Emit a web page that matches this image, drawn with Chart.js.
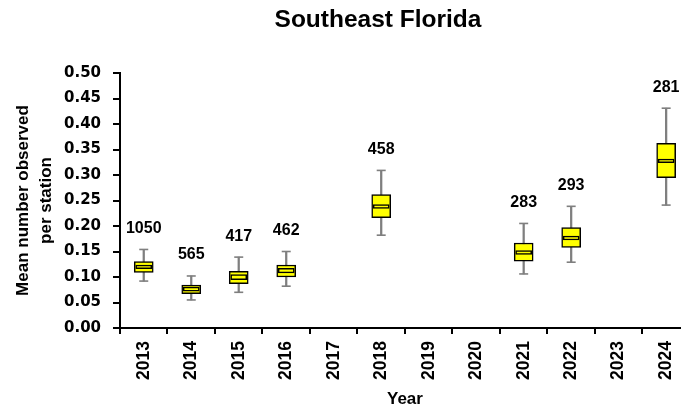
<!DOCTYPE html>
<html>
<head>
<meta charset="utf-8">
<script src="https://cdn.jsdelivr.net/npm/chart.js@4.4.1/dist/chart.umd.min.js"></script>
<style>
  html, body { margin: 0; padding: 0; background: #fff; overflow: hidden; }
  #wrap { position: absolute; left: 0; top: 0; width: 681px; height: 412px; overflow: hidden; }
</style>
</head>
<body>
<div id="wrap"><canvas id="chart" width="696" height="412"></canvas></div>
<script>
const years = ['2013', '2014', '2015', '2016', '2017', '2018', '2019', '2020', '2021', '2022', '2023', '2024'];
const counts = [1050, 565, 417, 462, null, 458, null, null, 283, 293, null, 281];

// box plot parts, mean number observed per station
const whiskerLow = [0.092, 0.055, 0.070, 0.082, null, 0.182, null, null, 0.106, 0.129, null, 0.241];
const q1 = [0.109, 0.0675, 0.087, 0.100, null, 0.2165, null, null, 0.131, 0.158, null, 0.295];
const q3 = [0.130, 0.084, 0.111, 0.1235, null, 0.2616, null, null, 0.1667, 0.197, null, 0.362];
const whiskerHigh = [0.154, 0.102, 0.139, 0.150, null, 0.309, null, null, 0.205, 0.2386, null, 0.431];
const midLow = [0.1165, 0.072, 0.095, 0.108, null, 0.2347, null, null, 0.1445, 0.1725, null, 0.324];
const midHigh = [0.1235, 0.080, 0.1047, 0.117, null, 0.242, null, null, 0.152, 0.180, null, 0.331];

const yTicks = [0, 0.05, 0.10, 0.15, 0.20, 0.25, 0.30, 0.35, 0.40, 0.45, 0.50];

const FONT = "'Liberation Sans', Arial, sans-serif";
const WIDE = "'DejaVu Sans', sans-serif";
const WHISKER = '#7f7f7f';

const range = (lo, hi) => lo.map((v, i) => (v == null ? null : [v, hi[i]]));

Chart.defaults.color = '#000';
Chart.defaults.font.family = FONT;
Chart.defaults.font.weight = 'bold';

// counts above each box
const countLabels = {
    id: 'countLabels',
    afterDatasetsDraw(chart) {
        const ctx = chart.ctx;
        const x = chart.scales.x, y = chart.scales.y;
        ctx.save();
        ctx.font = 'bold 16px ' + FONT;
        ctx.fillStyle = '#000';
        ctx.textAlign = 'center';
        ctx.textBaseline = 'middle';
        counts.forEach((n, i) => {
            if (n == null) return;
            ctx.fillText(String(n), x.getPixelForValue(i), y.getPixelForValue(whiskerHigh[i]) - 21);
        });
        ctx.restore();
    }
};

const chartTitle = {
    id: 'chartTitle',
    afterDraw(chart) {
        const ctx = chart.ctx;
        ctx.save();
        ctx.font = 'bold 24.5px ' + FONT;
        ctx.fillStyle = '#000';
        ctx.textAlign = 'center';
        ctx.textBaseline = 'middle';
        ctx.fillText('Southeast Florida', 378, 20);
        ctx.restore();
    }
};

const ctx = document.getElementById('chart').getContext('2d');
const chart = new Chart(ctx, {
    type: 'bar',
    data: {
        labels: years,
        datasets: [
            {
                label: 'whisker',
                data: range(whiskerLow, whiskerHigh),
                backgroundColor: WHISKER,
                borderWidth: 0,
                barThickness: 1.6,
                grouped: false,
                order: 4
            },
            {
                label: 'box',
                data: range(q1, q3),
                backgroundColor: '#ffff00',
                borderColor: '#000',
                borderWidth: 1.5,
                borderSkipped: false,
                barThickness: 19,
                grouped: false,
                order: 3
            },
            {
                label: 'middle',
                data: range(midLow, midHigh),
                backgroundColor: '#ffff00',
                borderColor: '#000',
                borderWidth: 1.5,
                borderSkipped: false,
                barThickness: 16,
                grouped: false,
                order: 2
            },
            {
                type: 'line',
                label: 'capHigh',
                data: whiskerHigh,
                showLine: false,
                pointStyle: 'line',
                pointRadius: 4.5,
                pointBorderWidth: 1.6,
                borderColor: WHISKER,
                order: 1
            },
            {
                type: 'line',
                label: 'capLow',
                data: whiskerLow,
                showLine: false,
                pointStyle: 'line',
                pointRadius: 4.5,
                pointBorderWidth: 1.6,
                borderColor: WHISKER,
                order: 1
            }
        ]
    },
    options: {
        responsive: false,
        animation: false,
        events: [],
        layout: { padding: { top: 73, right: 1, bottom: 0, left: 0 } },
        plugins: {
            legend: { display: false },
            tooltip: { enabled: false }
        },
        scales: {
            x: {
                offset: true,
                grid: { offset: true, drawOnChartArea: false, color: '#000', lineWidth: 2, tickLength: 6 },
                border: { color: '#000', width: 2 },
                ticks: { minRotation: 90, maxRotation: 90, padding: 7, font: { size: 17.5, weight: 'bold' } },
                title: { display: true, text: 'Year', font: { size: 17, weight: 'bold' }, padding: { top: 0, bottom: 2 } },
                afterFit: s => { s.height = 84; }
            },
            y: {
                min: 0,
                max: 0.5,
                afterBuildTicks: s => { s.ticks = yTicks.map(v => ({ value: v })); },
                grid: { drawOnChartArea: false, color: '#000', lineWidth: 2, tickLength: 7 },
                border: { color: '#000', width: 2 },
                ticks: { padding: 12, font: { family: WIDE, size: 15, weight: 'bold' }, callback: v => v.toFixed(2) },
                title: {
                    display: true,
                    text: ['Mean number observed', 'per station'],
                    font: { size: 17, weight: 'bold', lineHeight: 1.4 },
                    padding: { top: 11, bottom: 0 }
                },
                afterFit: s => { s.width = 120; }
            }
        }
    },
    plugins: [countLabels, chartTitle]
});
</script>
</body>
</html>
